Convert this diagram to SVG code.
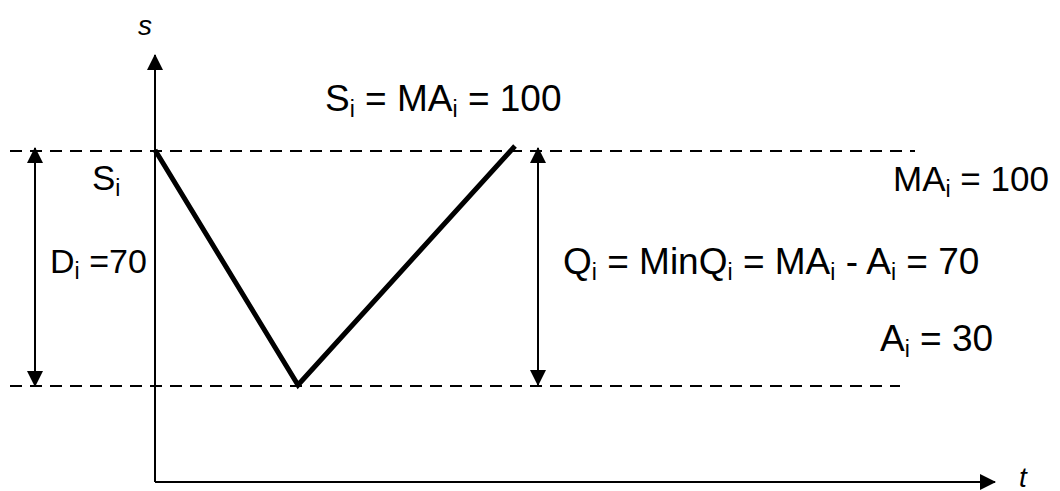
<svg xmlns="http://www.w3.org/2000/svg" width="1060" height="491" viewBox="0 0 1060 491">
<defs>
<marker id="ah" viewBox="0 0 16 16" refX="15" refY="8" markerWidth="16" markerHeight="16" markerUnits="userSpaceOnUse" orient="auto-start-reverse">
<path d="M0,0 L16,8 L0,16 Z" fill="#000"/>
</marker>
</defs>
<style>
.t{font-family:"Liberation Sans",Arial,sans-serif;font-size:37px;fill:#000}
.m{font-size:35px}
.d{font-size:34px}
.it{font-family:"Liberation Sans",Arial,sans-serif;font-size:28px;font-style:italic;fill:#000}
.sub{font-size:23px}
.dash{stroke:#000;stroke-width:2.2;stroke-dasharray:12 8;fill:none}
.ax{stroke:#000;stroke-width:2;fill:none}
.v{stroke:#000;stroke-width:5;fill:none;stroke-linejoin:miter}
</style>
<rect width="1060" height="491" fill="#fff"/>
<g id="connectors">
<line class="dash" x1="10" y1="151" x2="915" y2="151"/>
<line class="dash" x1="10" y1="386" x2="900" y2="386"/>
<line class="ax" x1="155" y1="482" x2="155" y2="55" marker-end="url(#ah)"/>
<line class="ax" x1="155" y1="482" x2="995" y2="482" marker-end="url(#ah)"/>
<line class="ax" x1="35" y1="148" x2="35" y2="386" marker-start="url(#ah)" marker-end="url(#ah)"/>
<line class="ax" x1="538" y1="148" x2="538" y2="385" marker-start="url(#ah)" marker-end="url(#ah)"/>
<polyline class="v" points="155,150 298,385 515,146"/>
</g>
<g id="label-s"><text class="it" x="138" y="35">s</text></g>
<g id="label-t"><text class="it" x="1019" y="487">t</text></g>
<g id="label-top"><text class="t" x="325" y="111">S<tspan class="sub" dy="6">i</tspan><tspan dy="-6"> = MA</tspan><tspan class="sub" dy="6">i</tspan><tspan dy="-6"> = 100</tspan></text></g>
<g id="label-si"><text class="t m" x="92" y="190">S<tspan class="sub" dy="6">i</tspan></text></g>
<g id="label-ma"><text class="t m" x="893" y="191">MA<tspan class="sub" dy="6">i</tspan><tspan dy="-6"> = 100</tspan></text></g>
<g id="label-d"><text class="t d" x="50" y="273">D<tspan class="sub" dy="6">i</tspan><tspan dy="-6"> =70</tspan></text></g>
<g id="label-q"><text class="t" x="563" y="274">Q<tspan class="sub" dy="6">i</tspan><tspan dy="-6"> = MinQ</tspan><tspan class="sub" dy="6">i</tspan><tspan dy="-6"> = MA</tspan><tspan class="sub" dy="6">i</tspan><tspan dy="-6"> - A</tspan><tspan class="sub" dy="6">i</tspan><tspan dy="-6"> = 70</tspan></text></g>
<g id="label-a"><text class="t" x="880" y="351">A<tspan class="sub" dy="6">i</tspan><tspan dy="-6"> = 30</tspan></text></g>
</svg>
